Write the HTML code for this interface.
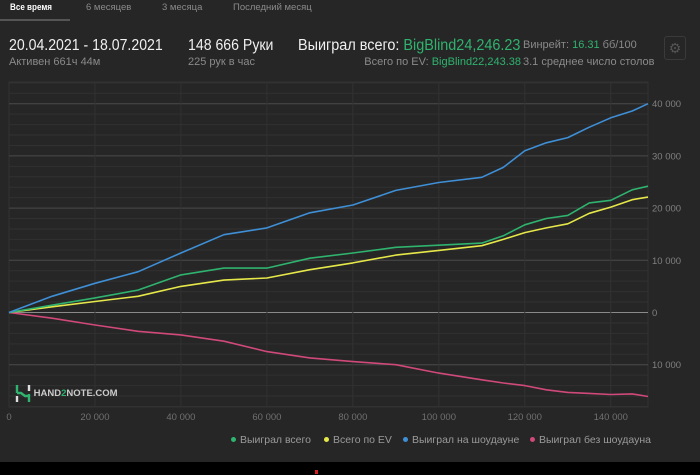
<!DOCTYPE html>
<html><head><meta charset="utf-8">
<style>
body{margin:0;background:#262626;width:700px;height:475px;overflow:hidden;font-family:"Liberation Sans","Noto Sans CJK SC",sans-serif;position:relative}
.a{position:absolute;white-space:nowrap}
.tab{top:2px;font-size:9.5px;color:#8a8a8a}
.big{font-size:15.5px;color:#f0f0f0;top:37px;transform:scaleX(0.91);transform-origin:left}
.sub{font-size:11px;color:#8a8a8a;top:56px}
.g{color:#2fb36e}
.leg{top:434px;font-size:10.5px;color:#9a9a9a}
.leg i{display:inline-block;width:5px;height:5px;border-radius:50%;margin-right:4px;vertical-align:middle;position:relative;top:-1px}
</style></head><body>
<div class="a tab" style="left:10px;color:#fff;font-weight:bold;transform:scaleX(0.85);transform-origin:left">Все время</div>
<div class="a" style="left:0;top:19px;width:70px;height:2px;background:#555"></div>
<div class="a tab" style="left:86px">6 месяцев</div>
<div class="a tab" style="left:162px">3 месяца</div>
<div class="a tab" style="left:233px">Последний месяц</div>

<div class="a big" style="left:9px">20.04.2021 - 18.07.2021</div>
<div class="a sub" style="left:9px">Активен 661ч 44м</div>
<div class="a big" style="left:188px">148 666 Руки</div>
<div class="a sub" style="left:188px">225 рук в час</div>
<div class="a big" style="left:298px;transform:scaleX(0.93)">Выиграл всего: <span class="g">BigBlind24,246.23</span></div>
<div class="a sub" style="right:179px">Всего по EV: <span class="g">BigBlind22,243.38</span></div>
<div class="a sub" style="left:523px;top:39px">Винрейт: <span class="g">16.31</span> бб/100</div>
<div class="a sub" style="left:523px">3.1 среднее число столов</div>
<div class="a" style="left:664px;top:36px;width:20px;height:22px;border:1px solid #3a3a3a;border-radius:3px;color:#555;font-size:14px;text-align:center;line-height:22px">⚙</div>

<svg class="a" style="left:0;top:0" width="700" height="475">
<g id="grid"></g><g id="lines"></g><g id="labels"></g>
</svg>

<div class="a" style="left:15px;top:384px;font-size:9.5px;font-weight:bold;color:#ccc">
<svg width="16" height="19" style="vertical-align:middle"><path d="M2 1v8M2 9h4l4 3h4M14 10v8" stroke="#2fb36e" stroke-width="2.4" fill="none"/><path d="M2 12v6M14 1v6" stroke="#ddd" stroke-width="2.4"/></svg> HAND<span style="color:#2fb36e">2</span>NOTE.COM</div>

<div class="a leg" style="left:231px"><i style="background:#2fb36e"></i>Выиграл всего</div>
<div class="a leg" style="left:324px"><i style="background:#e6e84a"></i>Всего по EV</div>
<div class="a leg" style="left:403px"><i style="background:#3f8fd6"></i>Выиграл на шоудауне</div>
<div class="a leg" style="left:530px"><i style="background:#d0497a"></i>Выиграл без шоудауна</div>

<div class="a" style="left:0;top:462px;width:700px;height:13px;background:#000"></div>
<div class="a" style="left:315px;top:470px;width:3px;height:4px;background:#d02020"></div>

<script>
const hands=[0,10000,20000,30000,40000,50000,60000,70000,80000,90000,100000,110000,115000,120000,125000,130000,135000,140000,145000,148666];
const blue=[0,3100,5600,7800,11400,14900,16200,19100,20600,23400,24900,25900,27800,31000,32500,33500,35500,37300,38600,40000];
const green=[0,1400,2800,4300,7200,8500,8500,10400,11400,12500,12900,13300,14700,16800,18000,18600,21000,21500,23500,24200];
const yellow=[0,1100,2100,3100,5000,6200,6600,8200,9500,11000,11900,12800,14000,15300,16200,17000,19000,20200,21600,22100];
const pink=[0,-1100,-2400,-3600,-4300,-5500,-7500,-8700,-9400,-10000,-11600,-12900,-13500,-14000,-14800,-15300,-15500,-15700,-15600,-16100];
const xTicks=[0,20000,40000,60000,80000,100000,120000,140000];
const xTickLabels=["0","20 000","40 000","60 000","80 000","100 000","120 000","140 000"];
const yTicks=[40000,30000,20000,10000,0,-10000];
const yTickLabels=["40 000","30 000","20 000","10 000","0","10 000"];

const NS="http://www.w3.org/2000/svg";
const L=9,R=648,T=82,B=407;
const xs=h=>L+h*(R-L)/148666;
const ys=v=>312.5-v*0.00522;
function mk(tag,attrs,parent){const e=document.createElementNS(NS,tag);for(const k in attrs)e.setAttribute(k,attrs[k]);document.getElementById(parent).appendChild(e);return e;}
let fr=mk('rect',{x:L,y:T,width:R-L,height:B-T,fill:'none',stroke:'#333','stroke-width':1},'grid');


for(let v=-18000;v<=44000;v+=2000){const y=ys(v);if(y<T||y>B)continue;
 const ln=mk('line',{x1:L,x2:R,y1:y,y2:y,stroke:(v%10000===0)?(v===0?'#8a8a8a':'#4a4a4a'):'#313131','stroke-width':1},'grid');
 
 }
xTicks.forEach((t,i)=>{const x=xs(t);
 if(i>0){const ln=mk('line',{x1:x,x2:x,y1:T,y2:B,stroke:'#323232'},'grid');
 
 }
 const tx=mk('text',{x:x,y:420,'text-anchor':'middle','font-size':'9.5',fill:'#707070'},'labels');tx.textContent=xTickLabels[i];
 
 });
yTicks.forEach((t,i)=>{const tx=mk('text',{x:652,y:ys(t)+3.5,'font-size':'9.5',fill:'#808080'},'labels');tx.textContent=yTickLabels[i];
 
 });
[[pink,'#d0497a','series-non-showdown'],[yellow,'#e6e84a','series-ev'],[green,'#2fb36e','series-won-total'],[blue,'#3f8fd6','series-showdown']].forEach(([s,c,n])=>{
 const p=mk('polyline',{points:s.map((v,i)=>xs(hands[i]).toFixed(1)+','+ys(v).toFixed(1)).join(' '),fill:'none',stroke:c,'stroke-width':1.6,'stroke-linejoin':'round'},'lines');
 
 });
</script>
</body></html>
